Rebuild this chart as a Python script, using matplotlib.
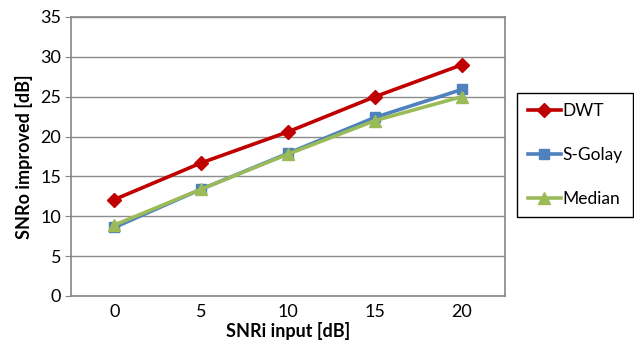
import matplotlib.pyplot as plt

# SNR improvement for the three denoising methods
snri = [0, 5, 10, 15, 20]
dwt = [12.1, 16.7, 20.6, 25.0, 29.0]
sgolay = [8.6, 13.4, 17.9, 22.4, 25.9]
median = [8.9, 13.4, 17.8, 22.0, 25.0]

plt.rcParams['font.family'] = ['Lato', 'DejaVu Sans']

fig = plt.figure(figsize=(6.34, 3.53), dpi=100)
ax = fig.add_axes([0.112, 0.1615, 0.685, 0.7905])

ax.plot(snri, dwt, color='#C00000', lw=2.6, marker='D', ms=7, label='DWT')
ax.plot(snri, sgolay, color='#4F81BD', lw=2.6, marker='s', ms=7, label='S-Golay')
ax.plot(snri, median, color='#9BBB59', lw=2.6, marker='^', ms=8, label='Median')

ax.set_xlim(-2.5, 22.5)
ax.set_ylim(0, 35)
ax.set_xticks(snri)
ax.set_yticks(range(0, 36, 5))
ax.grid(axis='y', color='#8C8C8C', lw=1)
ax.set_axisbelow(True)
for s in ax.spines.values():
    s.set_color('#868686')
    s.set_linewidth(1.2)
ax.tick_params(axis='x', length=0, labelsize=13, pad=6)
ax.tick_params(axis='y', length=4, color='#868686', labelsize=13, pad=3)

ax.set_xlabel('SNRi input [dB]', fontsize=13, fontweight='bold', labelpad=1)
ax.set_ylabel('SNRo improved [dB]', fontsize=13, fontweight='bold', labelpad=5)

leg = fig.legend(loc='upper left', bbox_to_anchor=(0.816, 0.737), fontsize=12.5,
                 frameon=True, fancybox=False, edgecolor='black', framealpha=1,
                 handlelength=1.9, handletextpad=0.1, labelspacing=1.6,
                 borderpad=0.6, borderaxespad=0)
leg.get_frame().set_linewidth(1.0)

fig.savefig('out.png', dpi=100)
